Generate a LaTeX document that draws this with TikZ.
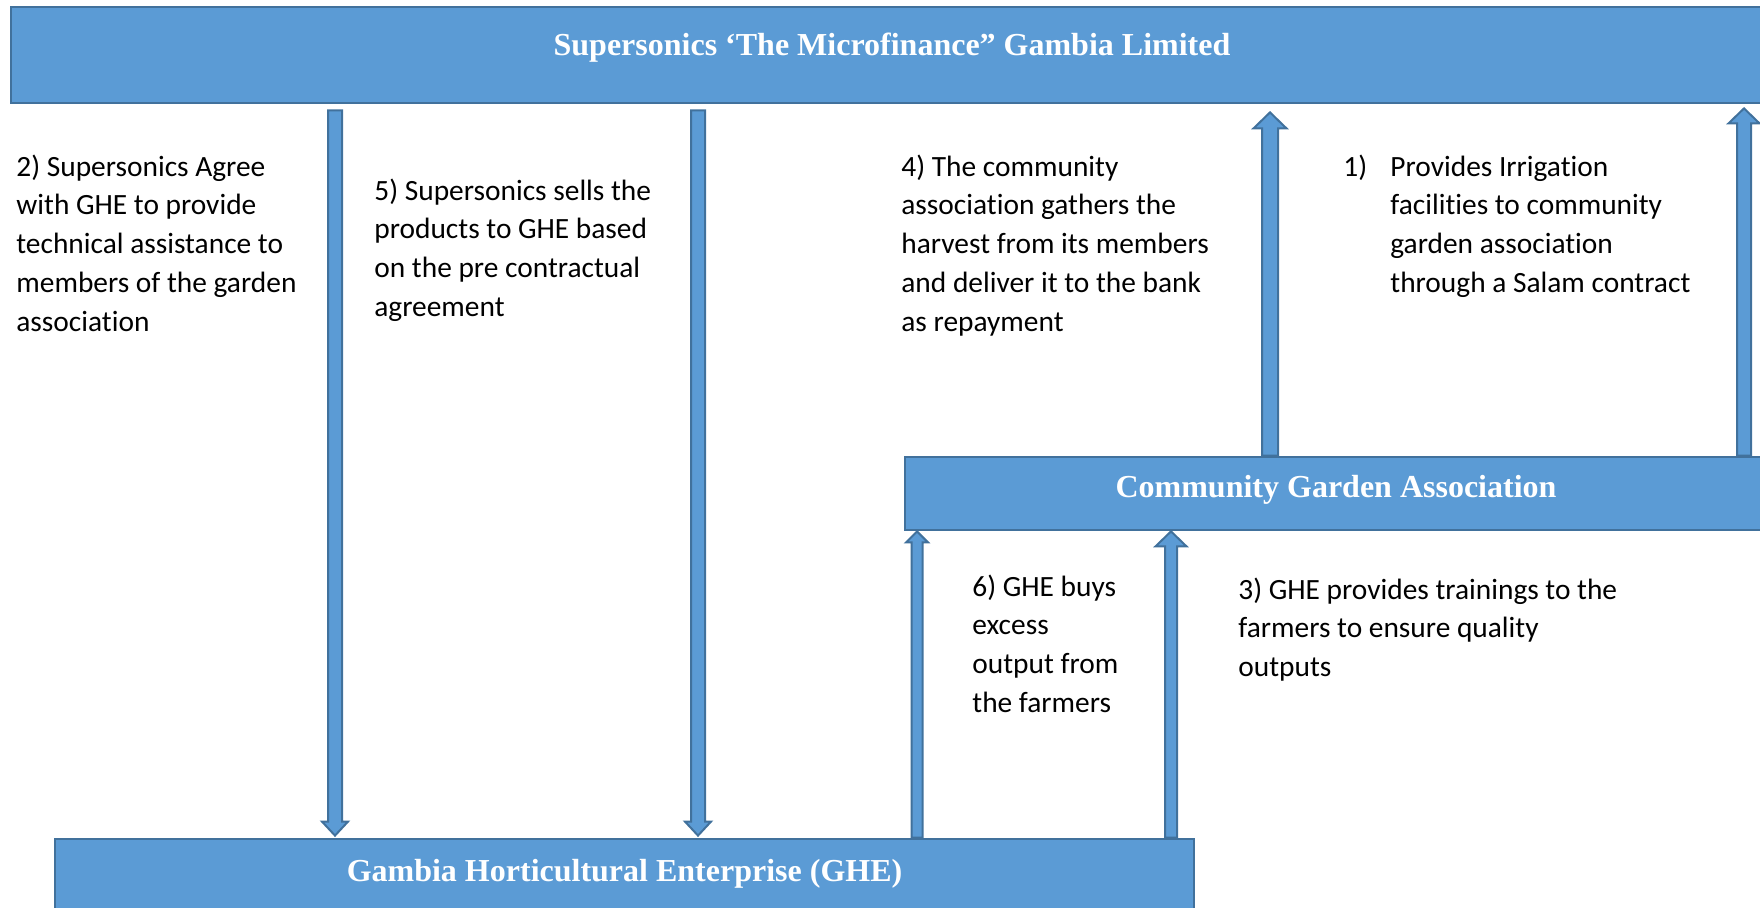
\documentclass[tikz,border=0pt]{standalone}
\usepackage{fontspec}
\setmainfont{Carlito}[Ligatures=NoCommon]
\newfontfamily\titlefont{Liberation Serif}
\usetikzlibrary{calc}
\definecolor{boxfill}{HTML}{5B9BD5}
\definecolor{boxline}{HTML}{41719C}
\tikzset{
  bigbox/.style={draw=boxline, fill=boxfill, line width=1.4pt, rectangle, inner sep=0pt},
  boxtitle/.style={text=white, font=\titlefont\bfseries\fontsize{16}{19}\selectfont, inner sep=0pt, anchor=base},
  bodytext/.style={align=left, anchor=north west, inner sep=0pt, font=\fontsize{14.7}{19.4}\selectfont},
  barrow/.style={draw=boxline, fill=boxfill, line width=1pt, line join=miter}
}
\newcommand\blockarrow[5]{%
  \draw[barrow] let \p1=(#1), \p2=(#2), \n1={sign(\y2-\y1)} in
   ({\x1-#3pt},\y1) -- ({\x1-#3pt},{\y2-(\n1)*#5pt}) -- ({\x1-#4pt},{\y2-(\n1)*#5pt}) -- (\x2,\y2)
   -- ({\x1+#4pt},{\y2-(\n1)*#5pt}) -- ({\x1+#3pt},{\y2-(\n1)*#5pt}) -- ({\x1+#3pt},\y1) -- cycle;}
\begin{document}
\begin{tikzpicture}[x=0.5pt,y=-0.5pt]
\useasboundingbox (0,0) rectangle (1760,908);
% boxes
\node[bigbox, minimum width=881pt, minimum height=48pt] (top) at (892,55) {};
\node[bigbox, minimum width=431pt, minimum height=36.5pt] (comm) at (1336,493.5) {};
\node[bigbox, minimum width=569.5pt, minimum height=40.5pt] (ghe) at (624.5,879.5) {};
% titles
\node[boxtitle] (toptitle) at (892,56) {Supersonics ‘The Microfinance” Gambia Limited};
\node[boxtitle] (commtitle) at (1336,498) {Community Garden Association};
\node[boxtitle] (ghetitle) at (624.5,881) {Gambia Horticultural Enterprise (GHE)};
% arrow end points
\coordinate (a1s) at ([yshift=-3pt]top.south -| 335,0);
\coordinate (a1e) at ([yshift=1pt]ghe.north -| 335,0);
\coordinate (a2s) at ([yshift=-3pt]top.south -| 698,0);
\coordinate (a2e) at ([yshift=1pt]ghe.north -| 698,0);
\coordinate (a3s) at (comm.north -| 1270,0);
\coordinate (a3e) at ([yshift=-4pt]top.south -| 1270,0);
\coordinate (a4s) at (comm.north -| 1744,0);
\coordinate (a4e) at ([yshift=-2pt]top.south -| 1744,0);
\coordinate (a5s) at (ghe.north -| 917,0);
\coordinate (a5e) at (comm.south -| 917,0);
\coordinate (a6s) at (ghe.north -| 1171,0);
\coordinate (a6e) at (comm.south -| 1171,0);
% arrows
\blockarrow{a1s}{a1e}{3.5}{6.5}{7}
\blockarrow{a2s}{a2e}{3.5}{6.5}{7}
\blockarrow{a3s}{a3e}{4}{8.25}{8}
\blockarrow{a4s}{a4e}{3.5}{7.75}{7.5}
\blockarrow{a5s}{a5e}{2.75}{5.5}{5.5}
\blockarrow{a6s}{a6e}{3}{7.75}{7.5}
% texts
\node[bodytext] (t2) at (16,148.5) {\strut 2) Supersonics Agree\\with GHE to provide\\technical assistance to\\members of the garden\\association};
\node[bodytext] (t5) at (374,172.5) {\strut 5) Supersonics sells the\\products to GHE based\\on the pre contractual\\agreement};
\node[bodytext] (t4) at (901,148.5) {\strut 4) The community\\association gathers the\\harvest from its members\\and deliver it to the bank\\as repayment};
\node[bodytext] (t1) at (1343,148.5) {\strut\makebox[23.5pt][l]{1)}Provides Irrigation\\\hspace*{23.5pt}facilities to community\\\hspace*{23.5pt}garden association\\\hspace*{23.5pt}through a Salam contract};
\node[bodytext] (t6) at (972,568.5) {\strut 6) GHE buys\\excess\\output from\\the farmers};
\node[bodytext] (t3) at (1238,571.5) {\strut 3) GHE provides trainings to the\\farmers to ensure quality\\outputs};
\end{tikzpicture}
\end{document}
